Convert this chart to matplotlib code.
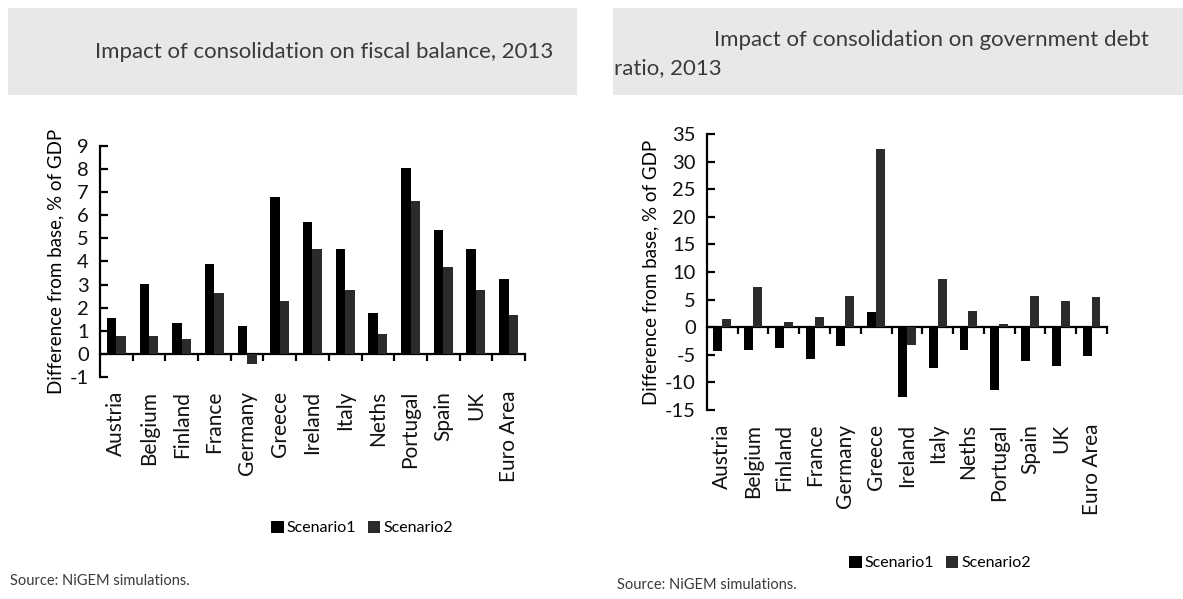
import numpy as np
import matplotlib
matplotlib.use('Agg')
import matplotlib.pyplot as plt
from matplotlib.patches import Rectangle, Patch

plt.rcParams['font.family'] = ['Lato', 'DejaVu Sans']

# 数据
countries = ['Austria', 'Belgium', 'Finland', 'France', 'Germany', 'Greece', 'Ireland',
             'Italy', 'Neths', 'Portugal', 'Spain', 'UK', 'Euro Area']

# 财政余额影响
bal_s1 = [1.55, 3.02, 1.34, 3.88, 1.19, 6.78, 5.73, 4.53, 1.77, 8.03, 5.37, 4.53, 3.24]
bal_s2 = [0.76, 0.76, 0.65, 2.63, -0.42, 2.27, 4.53, 2.78, 0.86, 6.63, 3.76, 2.78, 1.70]

# 政府债务比率影响
debt_s1 = [-4.3, -4.05, -3.75, -5.8, -3.45, 2.7, -12.6, -7.3, -4.05, -11.4, -6.1, -7.0, -5.2]
debt_s2 = [1.5, 7.2, 0.97, 1.8, 5.7, 32.3, -3.15, 8.65, 3.0, 0.66, 5.7, 4.8, 5.4]

series_names = ['Scenario1', 'Scenario2']
c1 = '#000000'
c2 = '#2b2b2b'
grey_bg = '#e8e8e8'
txt = '#3a3a3a'
fs_title = 16
fs_tick = 14.5

fig = plt.figure(figsize=(11.83, 5.99), dpi=100)

# 标题背景
fig.patches.append(Rectangle((8 / 1183, 1 - 95 / 599), 569 / 1183, 87 / 599,
                             transform=fig.transFigure, facecolor=grey_bg, edgecolor='none', zorder=0))
fig.patches.append(Rectangle((613 / 1183, 1 - 95 / 599), 570 / 1183, 87 / 599,
                             transform=fig.transFigure, facecolor=grey_bg, edgecolor='none', zorder=0))

fig.text(95 / 1183, 1 - 52 / 599, 'Impact of consolidation on fiscal balance, 2013',
         ha='left', va='center', fontsize=fs_title, color=txt)
fig.text(714 / 1183, 1 - 40 / 599, 'Impact of consolidation on government debt',
         ha='left', va='center', fontsize=fs_title, color=txt)
fig.text(614 / 1183, 1 - 68 / 599, 'ratio, 2013',
         ha='left', va='center', fontsize=fs_title, color=txt)


def draw(ax, s1, s2, ylim, yticks):
    x = np.arange(len(countries))
    w = 0.29
    ax.bar(x - w / 2, s1, width=w, color=c1, zorder=3)
    ax.bar(x + w / 2, s2, width=w, color=c2, zorder=3)
    ax.set_xlim(-0.5, len(countries) - 0.5)
    ax.set_ylim(*ylim)
    ax.set_yticks(yticks)
    ax.set_yticklabels([str(v) for v in yticks])
    for s in ['top', 'right']:
        ax.spines[s].set_visible(False)
    ax.spines['left'].set_linewidth(1.6)
    ax.spines['bottom'].set_position(('data', 0))
    ax.spines['bottom'].set_linewidth(1.6)
    ax.tick_params(axis='y', direction='in', length=6, width=1.6, labelsize=fs_tick, pad=8)
    ax.set_xticks(np.arange(len(countries)) + 0.5)
    ax.tick_params(axis='x', direction='out', length=5, width=1.6, labelbottom=False)
    # 类别标签放在坐标区底部
    sec = ax.secondary_xaxis('bottom')
    sec.set_xticks(x)
    sec.set_xticklabels(countries, rotation=90, fontsize=15)
    sec.tick_params(length=0, pad=10)
    sec.spines['bottom'].set_visible(False)
    ax.set_ylabel('Difference from base, % of GDP', fontsize=13.5, labelpad=4)
    for lab in ax.get_yticklabels() + sec.get_xticklabels():
        lab.set_color('#111111')


ax1 = fig.add_axes([0.0845, 0.3706, 0.3593, 0.3857])
draw(ax1, bal_s1, bal_s2, (-1, 9), list(range(-1, 10)))

ax2 = fig.add_axes([0.5976, 0.3155, 0.3381, 0.4608])
draw(ax2, debt_s1, debt_s2, (-15, 35), list(range(-15, 36, 5)))

handles = [Patch(facecolor=c1), Patch(facecolor=c2)]
leg_kw = dict(loc='center', ncol=2, frameon=False, fontsize=11.5, handlelength=0.8,
              handleheight=0.8, handletextpad=0.2, columnspacing=0.7)
fig.legend(handles, series_names, bbox_to_anchor=(362 / 1183, 1 - 528 / 599), **leg_kw)
fig.legend(handles, series_names, bbox_to_anchor=(940 / 1183, 1 - 563 / 599), **leg_kw)

fig.text(10 / 1183, 1 - 581 / 599, 'Source: NiGEM simulations.', ha='left', va='center',
         fontsize=10.5, color=txt)
fig.text(617 / 1183, 1 - 585 / 599, 'Source: NiGEM simulations.', ha='left', va='center',
         fontsize=10.5, color=txt)

fig.savefig('out.png', dpi=100)
